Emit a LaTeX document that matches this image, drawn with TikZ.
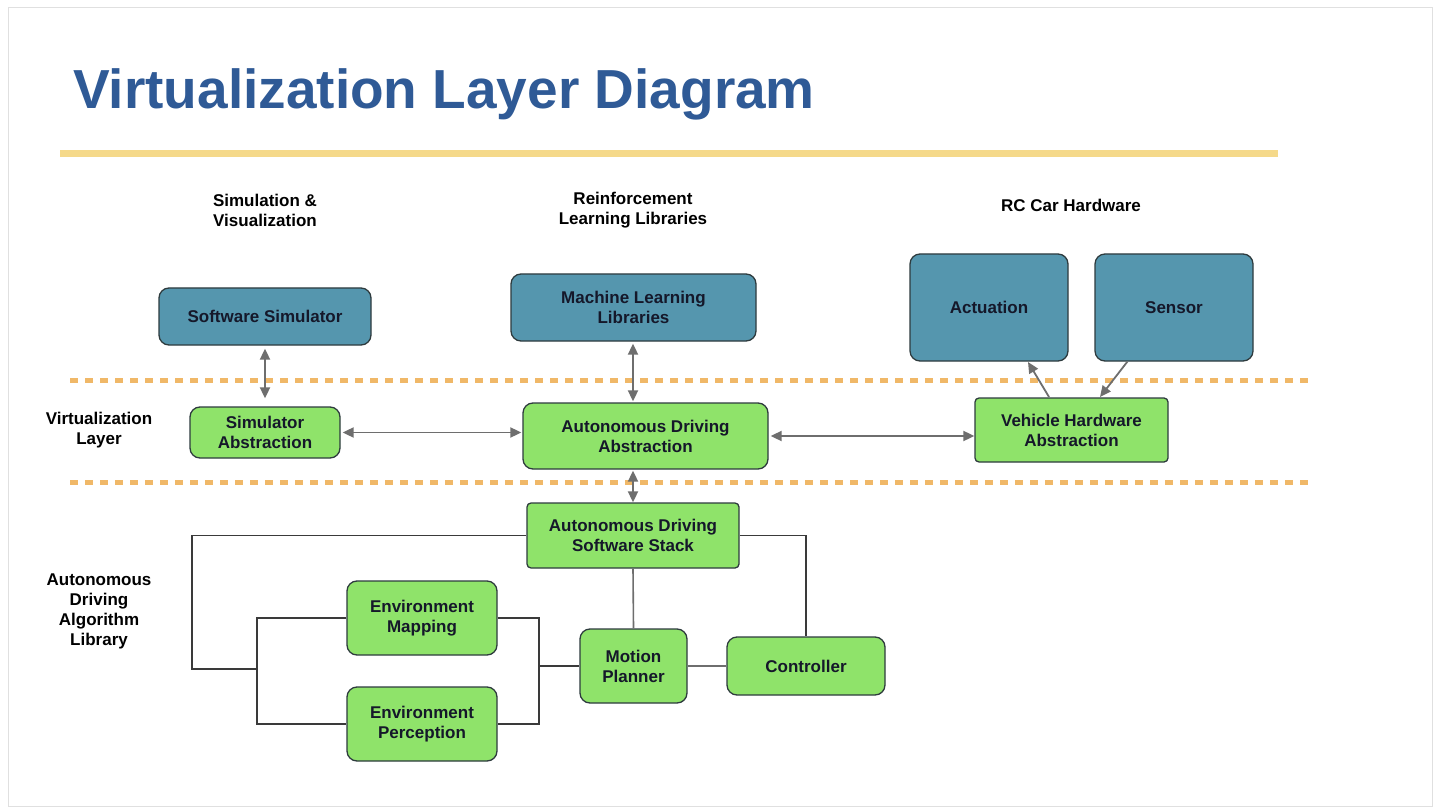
\documentclass[tikz,border=0pt]{standalone}
\usepackage{fontspec}
\setmainfont{Liberation Sans}
\usetikzlibrary{arrows.meta}
\definecolor{titleblue}{HTML}{2F5A96}
\definecolor{gold}{HTML}{F5D98A}
\definecolor{dashor}{HTML}{F0B868}
\definecolor{boxblue}{HTML}{5596AE}
\definecolor{boxgreen}{HTML}{8FE36A}
\definecolor{edgedark}{HTML}{2E3B3E}
\definecolor{txt}{HTML}{15182A}
\definecolor{arrowgray}{HTML}{6E6E6E}
\definecolor{linedark}{HTML}{3A3A3A}
\tikzset{
  bx/.style={draw=edgedark, line width=1.3pt, rounded corners=10pt, align=center,
    text=txt, font=\fontsize{17}{20}\selectfont\bfseries, inner sep=2pt},
  bluebox/.style={bx, fill=boxblue},
  greenbox/.style={bx, fill=boxgreen},
  lbl/.style={align=center, text=black, font=\fontsize{17}{20}\selectfont\bfseries},
  darr/.style={draw=arrowgray, line width=1.8pt, {Triangle[length=11pt,width=10pt]}-{Triangle[length=11pt,width=10pt]}},
  sarr/.style={draw=arrowgray, line width=1.8pt, -{Triangle[length=11pt,width=10pt]}},
  tree/.style={draw=linedark, line width=1.6pt},
  treeg/.style={draw=arrowgray, line width=1.6pt},
  sep/.style={draw=dashor, line width=5pt, dash pattern=on 8pt off 7pt},
}
\begin{document}
\begin{tikzpicture}[x=1pt,y=-1pt]
\useasboundingbox (0,0) rectangle (1440,810);
\fill[white] (0,0) rectangle (1440,810);
\draw[black!12, line width=1pt] (8,8) rectangle (1432,806);
% title
\node[anchor=west, text=titleblue, font=\fontsize{55}{62}\selectfont\bfseries, inner sep=0pt] (title) at (73,94) {Virtualization Layer Diagram};
\fill[gold] (60,150) rectangle (1278,157);
% separators
\draw[sep] (70,380) -- (1310,380);
\draw[sep] (70,482) -- (1310,482);
% headers
\node[lbl] (h1) at (265,210) {Simulation \&\\Visualization};
\node[lbl] (h2) at (633,210) {Reinforcement\\Learning Libraries};
\node[lbl] (h3) at (1071,205) {RC Car Hardware};
\node[lbl] (l1) at (99,430) {Virtualization\\Layer};
\node[lbl] (l2) at (99,611) {Autonomous\\Driving\\Algorithm\\Library};
% top boxes
\node[bluebox, minimum width=212pt, minimum height=57pt] (sw) at (265,316.5) {Software Simulator};
\node[bluebox, minimum width=245pt, minimum height=67pt] (ml) at (633.5,307.5) {Machine Learning\\Libraries};
\node[bluebox, minimum width=158pt, minimum height=107pt] (act) at (989,307.5) {Actuation};
\node[bluebox, minimum width=158pt, minimum height=107pt] (sen) at (1174,307.5) {Sensor};
% virtualization layer
\node[greenbox, minimum width=150pt, minimum height=51pt] (sa) at (265,432.5) {Simulator\\Abstraction};
\node[greenbox, minimum width=245pt, minimum height=66pt] (ada) at (645.5,436) {Autonomous Driving\\Abstraction};
\node[greenbox, minimum width=193pt, minimum height=64pt, rounded corners=4pt] (vha) at (1071.5,430) {Vehicle Hardware\\Abstraction};
% algorithm library
\node[greenbox, minimum width=212pt, minimum height=65pt, rounded corners=4pt] (adss) at (633,535.5) {Autonomous Driving\\Software Stack};
\node[greenbox, minimum width=150pt, minimum height=74pt] (em) at (422,618) {Environment\\Mapping};
\node[greenbox, minimum width=150pt, minimum height=74pt] (ep) at (422,724) {Environment\\Perception};
\node[greenbox, minimum width=107pt, minimum height=74pt] (mp) at (633.5,666) {Motion\\Planner};
\node[greenbox, minimum width=158pt, minimum height=58pt] (ctl) at (806,666) {Controller};
% arrows
\draw[darr] ([yshift=-3pt]sw.south) -- ([yshift=8pt]sa.north);
\draw[darr] ([xshift=2pt]sa.east) -- ([xshift=-1pt]ada.west |- sa.east);
\draw[darr] ([yshift=-2pt,xshift=-12.5pt]ml.south -| ada.north) -- ([xshift=-12.5pt,yshift=1pt]ada.north);
\draw[darr] ([xshift=2pt]ada.east) -- (vha.west |- ada.east);
\draw[darr] ([xshift=-12.5pt,yshift=-1pt]ada.south) -- (adss.north);
\coordinate (va1) at (1049,397);
\coordinate (va2) at (1100,397);
\draw[sarr] (va1) -- (1028,362);
\draw[sarr] (sen.south west) ++(33,0) -- (va2);
% tree
\coordinate (j1) at (257,669);
\coordinate (j2) at (539,666);
\draw[tree] (adss.west) -- (192,535.5) |- (j1);
\draw[tree] (em.west) -| (j1) |- (ep.west);
\draw[tree] (em.east) -| (j2) |- (ep.east);
\draw[tree] (j2) -- (mp.west);
\draw[treeg] (adss.south) -- (mp.north);
\draw[treeg] (mp.east) -- (ctl.west);
\draw[tree] (adss.east) -| (ctl.north);
\end{tikzpicture}
\end{document}
